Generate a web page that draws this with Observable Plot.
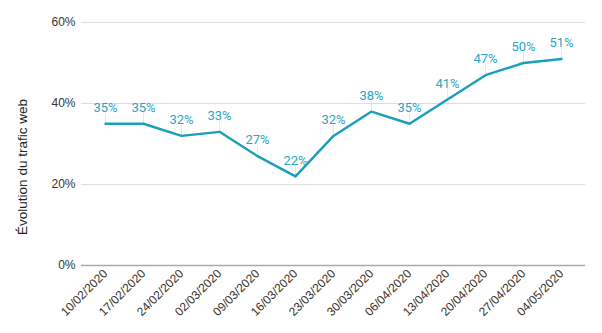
<!DOCTYPE html>
<html><head><meta charset="utf-8">
<script src="https://cdn.jsdelivr.net/npm/d3@7"></script>
<script src="https://cdn.jsdelivr.net/npm/@observablehq/plot@0.6"></script>
<style>body{margin:0;background:#fff}</style>
</head><body><div id="chart"></div>
<script>
const dates = ["10/02/2020","17/02/2020","24/02/2020","02/03/2020","09/03/2020","16/03/2020","23/03/2020","30/03/2020","06/04/2020","13/04/2020","20/04/2020","27/04/2020","04/05/2020"];
const values = [35,35,32,33,27,22,32,38,35,41,47,50,51];
const yTicks = [0,20,40,60];
const data = dates.map((d,i)=>({date:d, value:values[i]}));

const chart = Plot.plot({
  width: 602, height: 333,
  marginLeft: 81, marginRight: 17, marginTop: 22, marginBottom: 68,
  style: {fontFamily: "Liberation Sans, Arial, sans-serif", fontSize: "12px", color: "#333"},
  x: {type: "point", domain: dates, padding: 0.5, label: null, tickSize: 0, tickRotate: -45, tickPadding: 6},
  y: {domain: [0,60], ticks: yTicks, tickFormat: d => d + "%", label: "Évolution du trafic web", labelAnchor: "center", labelArrow: "none", tickSize: 0, tickPadding: 6, labelOffset: 60},
  marks: [
    Plot.gridY(yTicks.filter(t=>t>0), {stroke: "#ddd", strokeOpacity: 1, strokeWidth: 1}),
    Plot.ruleY([0], {stroke: "#aaa", strokeWidth: 1.5}),
    Plot.ruleX(data, {x: "date", y1: "value", y2: d => d.value + 2.6, stroke: "#e6e6e6", strokeWidth: 1}),
    Plot.line(data, {x: "date", y: "value", stroke: "#1a9fba", strokeWidth: 2.4}),
    Plot.text(data, {x: "date", y: "value", text: d => d.value + "%", dy: -16, fill: "#2aa6c2", fontSize: 13, fontFamily: "Roboto, sans-serif"})
  ]
});
document.getElementById("chart").append(chart);
d3.select(chart).selectAll("[aria-label='y-axis label'] text")
  .style("font-size","13.5px").style("fill","#222")
  .attr("transform","translate(22,167) rotate(-90)").attr("x",0).attr("y",0).attr("dy","0.35em");
d3.select(chart).selectAll("[aria-label='y-axis label']").attr("transform", null);
</script></body></html>
